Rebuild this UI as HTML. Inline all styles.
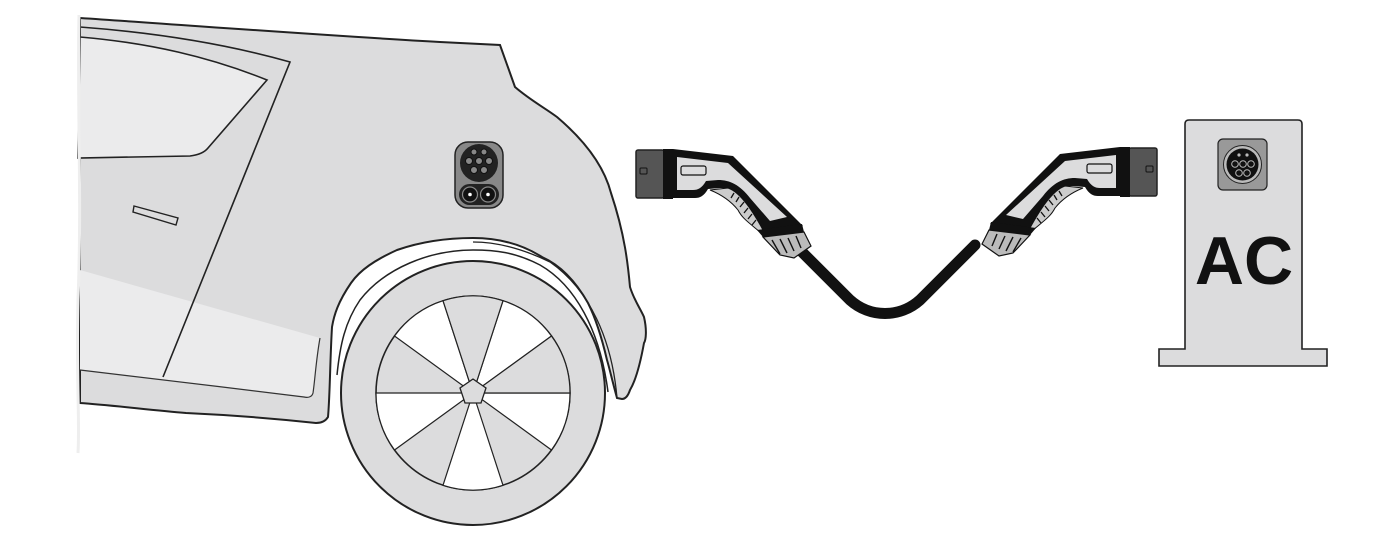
<!DOCTYPE html>
<html><head><meta charset="utf-8"><style>
html,body{margin:0;padding:0;background:#fff;}
svg{display:block;}
</style></head><body>
<svg width="1400" height="539" viewBox="0 0 1400 539" xmlns="http://www.w3.org/2000/svg">
<!-- CAR BODY -->
<path d="M80,18 C200,26 330,36 440,42 L500,45 L515,87 C530,100 545,108 557,117 C590,145 605,170 611,193 C625,235 628,265 630,287 C634,300 640,308 644,317 C647,330 646,340 644,343 C640,365 636,380 630,390 C628,396 625,399 622,399 L617,398 C612,380 610,370 607,360 C600,330 594,315 588,303 C575,280 560,265 542,257 C520,243 495,238 473,238 C445,238 420,242 397,250 C375,260 360,270 351,283 C338,302 334,315 332,327 C330,360 330,395 328,417 C325,422 320,423 316,423 C270,418 230,415 186,413 C150,410 110,405 80,403 Z" fill="#dcdcdd" stroke="#222" stroke-width="2"/>
<path d="M80,270 L320,338 C316,360 315,380 313,393 C312,397 308,398 304,397 C230,388 150,378 80,370 Z" fill="#ebebec"/>
<path d="M80,370 C150,378 230,388 304,397 C308,398 312,397 313,393 C315,380 316,360 320,338" fill="none" stroke="#333" stroke-width="1.2"/>
<path d="M80,27 C160,33 230,45 290,62 L163,377" fill="none" stroke="#222" stroke-width="1.6"/>
<path d="M80,37 C150,43 210,57 267,80 L208,148 C204,153 198,155 190,156 L78,158 Z" fill="#ebebec" stroke="#222" stroke-width="1.6"/>
<polygon points="134,206 178,218 176,225 133,212" fill="#dcdcdd" stroke="#222" stroke-width="1.4"/>
<path d="M79,15 C77,100 82,200 78,300 C76,380 80,420 78,453" fill="none" stroke="#eee" stroke-width="3"/>
<path d="M617,398 C612,340 590,290 550,262 C515,245 490,242 473,242" fill="none" stroke="#222" stroke-width="1.3"/>
<path d="M608,392 C600,330 575,285 540,265 C515,252 495,250 473,250 C430,250 385,268 360,300 C345,322 340,345 337,375" fill="#fff" stroke="#222" stroke-width="1.5"/>
<!-- WHEEL -->
<circle cx="473" cy="393" r="132" fill="#dcdcdd" stroke="#222" stroke-width="2"/>
<circle cx="473" cy="393" r="97" fill="#dcdcdd" stroke="#222" stroke-width="1.6"/>
<g fill="#fff" stroke="#222" stroke-width="1.2">
<path d="M473,393 L503,300.7 A97,97 0 0 1 551.5,336 Z"/>
<path d="M473,393 L570,393 A97,97 0 0 1 551.5,450 Z"/>
<path d="M473,393 L503,485.3 A97,97 0 0 1 443,485.3 Z"/>
<path d="M473,393 L394.5,450 A97,97 0 0 1 376,393 Z"/>
<path d="M473,393 L394.5,336 A97,97 0 0 1 443,300.7 Z"/>
</g>
<g fill="#dcdcdd" stroke="#222" stroke-width="1.2">
<path d="M473,393 L551.5,336 A97,97 0 0 1 570,393 Z"/>
<path d="M473,393 L443,300.7 A97,97 0 0 1 503,300.7 Z"/>
</g>
<polygon points="473,379 486,388 481,403 465,403 460,388" fill="#dcdcdd" stroke="#222" stroke-width="1.3"/>
<!-- CAR PORT -->
<rect x="455" y="142" width="48" height="66" rx="13" fill="#888" stroke="#222" stroke-width="1.5"/>
<circle cx="479" cy="163" r="19" fill="#222"/>
<rect x="459" y="184" width="40" height="21" rx="10.5" fill="#222"/>
<g fill="#888" stroke="#111" stroke-width="1">
<circle cx="474" cy="152" r="3"/><circle cx="484" cy="152" r="3"/>
<circle cx="469" cy="161" r="3.5"/><circle cx="479" cy="161" r="3.5"/><circle cx="489" cy="161" r="3.5"/>
<circle cx="474" cy="170" r="3.5"/><circle cx="484" cy="170" r="3.5"/>
</g>
<g fill="#111" stroke="#888" stroke-width="1.2">
<circle cx="470" cy="194.5" r="7.5"/><circle cx="488" cy="194.5" r="7.5"/>
</g>
<g fill="#fff"><circle cx="470" cy="194.5" r="1.8"/><circle cx="488" cy="194.5" r="1.8"/></g>
<!-- CABLE -->
<path d="M800,250 L850,300 C870,318 900,318 920,300 L975,245" fill="none" stroke="#111" stroke-width="11" stroke-linecap="round"/>
<!-- PLUG (left) -->
<g id="plug">
<rect x="636" y="150" width="28" height="48" rx="2" fill="#555" stroke="#222" stroke-width="1.5"/>
<rect x="640" y="168" width="7" height="6" rx="1" fill="#555" stroke="#111" stroke-width="1"/>
<path d="M663,149 L673,149 L673,199 L663,199 Z" fill="#111"/>
<path d="M673,149 L733,156 L803,226 L763,236 L745,206 C738,192 730,188 720,188 L708,189 C704,196 700,198 695,198 L673,198 Z" fill="#111"/>
<path d="M677,157 L728,163 L787,217 L770,221 L750,198 C740,185 730,180 718,180 L706,181 C702,188 698,190 693,190 L677,190 Z" fill="#dcdcdd"/>
<path d="M710,190 L728,188 C740,192 752,210 763,230 L760,232 C748,222 742,218 738,210 C730,200 720,194 710,190 Z" fill="#ccc" stroke="#111" stroke-width="1"/>
<g stroke="#111" stroke-width="1.3" fill="none">
<path d="M734,193 l-3,5"/><path d="M739,197 l-3,5"/><path d="M744,202 l-4,5"/><path d="M748,208 l-4,5"/><path d="M752,214 l-4,5"/><path d="M756,220 l-4,5"/>
</g>
<path d="M757,230 L802,224 L804,232 L763,237 Z" fill="#111"/>
<path d="M763,237 L804,232 L811,246 L794,258 L780,255 Z" fill="#bbb" stroke="#111" stroke-width="1.2"/>
<g stroke="#111" stroke-width="1.4"><path d="M772,240 l8,14"/><path d="M780,239 l7,14"/><path d="M788,238 l6,13"/><path d="M796,236 l5,12"/></g>
<rect x="681" y="166" width="25" height="9" rx="2" fill="#dcdcdd" stroke="#111" stroke-width="1.2"/>
</g>
<use href="#plug" transform="translate(1793,-2) scale(-1,1)"/>
<!-- CHARGER -->
<path d="M1185,366 L1159,366 L1159,349 L1185,349 L1185,124 Q1185,120 1189,120 L1298,120 Q1302,120 1302,124 L1302,349 L1327,349 L1327,366 Z" fill="#dcdcdd" stroke="#222" stroke-width="1.6"/>
<rect x="1218" y="139" width="49" height="51" rx="5" fill="#999" stroke="#222" stroke-width="1.2"/>
<circle cx="1242.5" cy="164.5" r="19" fill="#bbb" stroke="#222" stroke-width="1"/>
<circle cx="1242.5" cy="164.5" r="16" fill="#111"/>
<g fill="#111" stroke="#bbb" stroke-width="1">
<circle cx="1235" cy="164" r="3.3"/><circle cx="1243" cy="164" r="3.3"/><circle cx="1251" cy="164" r="3.3"/>
<circle cx="1239" cy="173" r="3.3"/><circle cx="1247" cy="173" r="3.3"/>
</g>
<g fill="#bbb"><circle cx="1239" cy="155" r="1.6"/><circle cx="1247" cy="155" r="1.6"/></g>
<text x="1244" y="284" text-anchor="middle" font-family="Liberation Sans, sans-serif" font-weight="bold" font-size="68" fill="#111">AC</text>
</svg>
</body></html>
